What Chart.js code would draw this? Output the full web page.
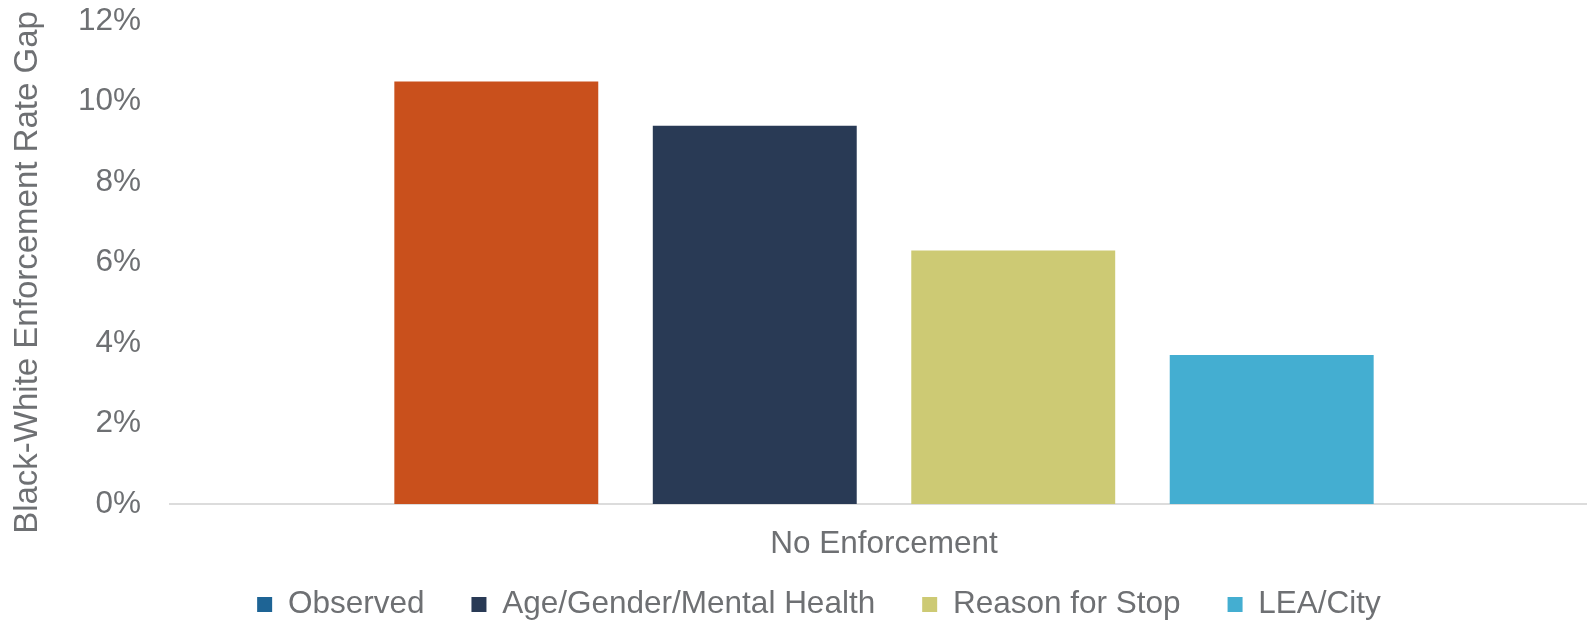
<!DOCTYPE html>
<html>
<head>
<meta charset="utf-8">
<script src="https://cdn.jsdelivr.net/npm/chart.js@4"></script>
<style>
  html, body { margin: 0; padding: 0; background: #fff; }
  #wrap { width: 1587px; height: 620px; }
</style>
</head>
<body>
<div id="wrap"><canvas id="gapChart" width="1587" height="620"></canvas></div>
<script>
// Black-White enforcement rate gap, one category, four model specifications
const categories = ['No Enforcement'];
const seriesNames = ['Observed', 'Age/Gender/Mental Health', 'Reason for Stop', 'LEA/City'];
const seriesValues = [10.5, 9.4, 6.3, 3.7]; // percent
const yTicks = [0, 2, 4, 6, 8, 10, 12];

// bar fill vs. legend swatch (the first bar was recoloured in the original)
const barColors = ['#C9501C', '#293A55', '#CDCA74', '#44AED1'];
const legendColors = ['#1E6495', '#293A55', '#CDCA74', '#44AED1'];

const textColor = '#6E7073';
const font = { family: '"Liberation Sans", Arial, sans-serif', size: 31.5 };

const datasets = seriesNames.map((name, i) => ({
  label: name,
  data: [seriesValues[i]],
  backgroundColor: barColors[i],
  borderWidth: 0,
  categoryPercentage: 0.724,
  barPercentage: 0.789
}));

// The x axis in the original runs a little past the right edge of the image,
// its label hangs below the (short) axis box, and the y title sits a bit
// lower than the plot's middle: adjust the boxes once layout is done.
const axisTweak = {
  id: 'axisTweak',
  afterLayout(chart) {
    const x = chart.scales.x;
    x.right += 11;
    x.width += 11;
    x.configure();
    x.bottom = chart.height;
    const y = chart.scales.y;
    y.bottom += 20;
  }
};

new Chart(document.getElementById('gapChart'), {
  type: 'bar',
  data: { labels: categories, datasets: datasets },
  plugins: [axisTweak],
  options: {
    responsive: false,
    animation: false,
    layout: { padding: { top: 21, left: 51, right: 0, bottom: 0 } },
    plugins: {
      tooltip: { enabled: false },
      legend: {
        position: 'bottom',
        maxHeight: 78.25,
        labels: {
          color: textColor,
          font: font,
          boxWidth: 15,
          boxHeight: 15,
          padding: 47,
          generateLabels: chart => chart.data.datasets.map((ds, i) => ({
            text: ds.label,
            fillStyle: legendColors[i],
            strokeStyle: legendColors[i],
            lineWidth: 0,
            fontColor: textColor,
            datasetIndex: i,
            hidden: false
          }))
        }
      }
    },
    scales: {
      x: {
        grid: { display: false, drawTicks: false },
        border: { display: true, color: '#DCDCDC', width: 2 },
        ticks: { color: textColor, font: font, padding: 21 },
        afterFit: axis => { axis.height = 37.75; }
      },
      y: {
        min: 0,
        max: 12,
        afterBuildTicks: axis => { axis.ticks = yTicks.map(v => ({ value: v })); },
        grid: { display: false, drawTicks: false },
        border: { display: false },
        ticks: {
          color: textColor,
          font: font,
          padding: 29,
          callback: v => v + '%'
        },
        title: {
          display: true,
          text: 'Black-White Enforcement Rate Gap',
          color: textColor,
          font: { family: font.family, size: 33 },
          padding: { top: -43, bottom: 0 }
        },
        afterFit: axis => {
          axis.width = 119;
          axis.paddingTop = 0;
          axis.paddingBottom = 0;
        }
      }
    }
  }
});
</script>
</body>
</html>
